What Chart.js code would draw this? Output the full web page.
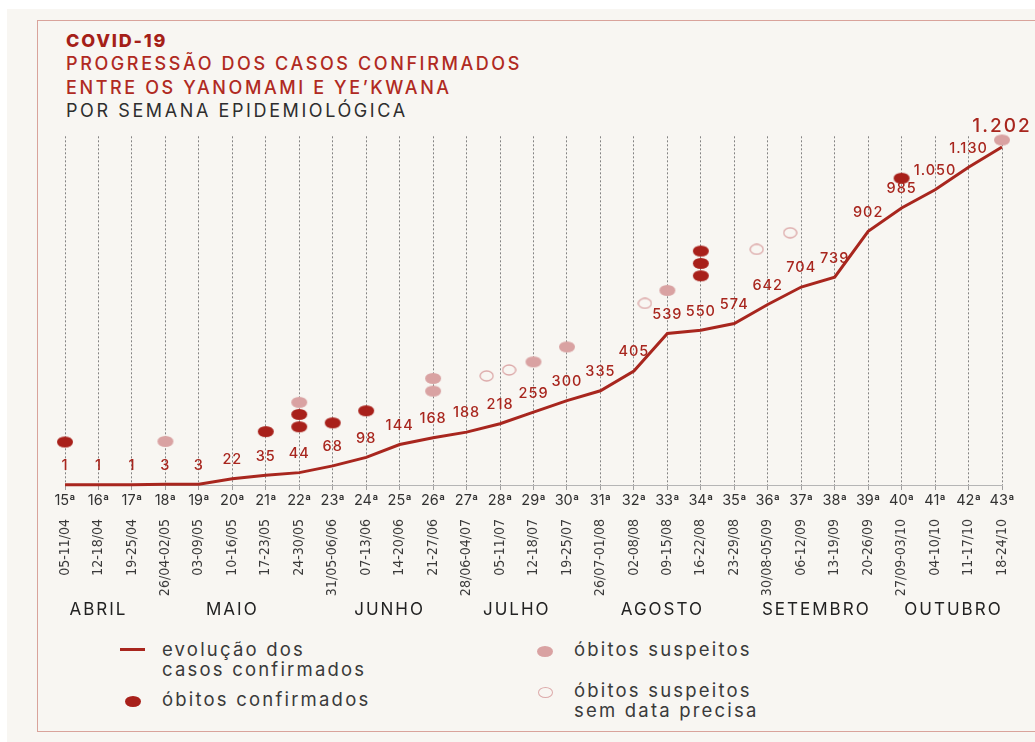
<!DOCTYPE html>
<html>
<head>
<meta charset="utf-8">
<script src="https://cdn.jsdelivr.net/npm/chart.js@4"></script>
<style>
  body { margin: 0; background: #fff; width: 1035px; height: 742px; overflow: hidden; position: relative; font-family: Inter, 'Noto Sans', sans-serif; }
  #sheet { position: absolute; left: 7px; top: 9px; width: 1028px; height: 733px; background: #f8f6f2; }
  #frame { position: absolute; left: 37px; top: 20px; width: 1010px; height: 710px; border-left: 1.5px solid #d9a39b; border-top: 1.5px solid #d9a39b; border-bottom: 1.5px solid #d9a39b; }
  #title { position: absolute; left: 66px; top: 29px; line-height: 23.4px; font-size: 18px; letter-spacing: 2.6px; }
  #title .t1 { color: #a51f19; font-weight: 800; letter-spacing: 1.8px; }
  #title .t2 { color: #b02a22; font-weight: 500; }
  #title .t3 { color: #2e2e2e; font-weight: 400; }
  #chart { position: absolute; left: 37px; top: 100px; }
  .leg { position: absolute; font-size: 18.5px; letter-spacing: 2.2px; color: #3a3a3a; line-height: 20px; }
  .sw { position: absolute; }
</style>
</head>
<body>
<div id="sheet"></div>
<div id="frame"></div>
<div id="title">
  <div class="t1">COVID-19</div>
  <div class="t2">PROGRESSÃO DOS CASOS CONFIRMADOS</div>
  <div class="t2">ENTRE OS YANOMAMI E YE’KWANA</div>
  <div class="t3">POR SEMANA EPIDEMIOLÓGICA</div>
</div>
<canvas id="chart" width="998" height="530"></canvas>

<div class="sw" style="left:120px;top:648px;width:25px;height:3px;background:#a8261e"></div>
<div class="leg" style="left:162px;top:639px">evolução dos<br>casos confirmados</div>
<div class="sw" style="left:125px;top:696px;width:16px;height:11px;border-radius:50%;background:#a8201a"></div>
<div class="leg" style="left:162px;top:689px">óbitos confirmados</div>
<div class="sw" style="left:537px;top:646px;width:16px;height:11px;border-radius:50%;background:#d9a2a2"></div>
<div class="leg" style="left:574px;top:639px">óbitos suspeitos</div>
<div class="sw" style="left:538px;top:687px;width:13px;height:9px;border-radius:50%;border:1.3px solid #dcaaaa"></div>
<div class="leg" style="left:574px;top:680px">óbitos suspeitos<br>sem data precisa</div>

<script>
// semanas epidemiológicas 15ª a 43ª
const weeks = [15, 16, 17, 18, 19, 20, 21, 22, 23, 24, 25, 26, 27, 28, 29, 30, 31, 32, 33, 34, 35, 36, 37, 38, 39, 40, 41, 42, 43];
const weekDates = ['05-11/04', '12-18/04', '19-25/04', '26/04-02/05', '03-09/05', '10-16/05', '17-23/05', '24-30/05',
  '31/05-06/06', '07-13/06', '14-20/06', '21-27/06', '28/06-04/07', '05-11/07', '12-18/07', '19-25/07',
  '26/07-01/08', '02-08/08', '09-15/08', '16-22/08', '23-29/08', '30/08-05/09', '06-12/09', '13-19/09',
  '20-26/09', '27/09-03/10', '04-10/10', '11-17/10', '18-24/10'];
const cases = [1, 1, 1, 3, 3, 22, 35, 44, 68, 98, 144, 168, 188, 218, 259, 300, 335, 405, 539, 550, 574, 642, 704, 739, 902, 985, 1050, 1130, 1202];

const monthNames = ['ABRIL', 'MAIO', 'JUNHO', 'JULHO', 'AGOSTO', 'SETEMBRO', 'OUTUBRO'];
const monthWeeks = [16, 20, 24.7, 28.5, 32.85, 37.45, 41.55];

// marcadores de óbitos (semana, altura no eixo de casos)
const confirmedDeaths = [[15, 153], [21, 190], [22, 251], [22, 207], [23, 221], [24, 264], [34, 832], [34, 788], [34, 744], [40, 1091]];
const suspectedDeaths = [[18, 155], [22, 294], [26, 379], [26, 334], [29, 438], [30, 491], [33, 692], [43, 1227]];
const undatedDeaths = [[27.6, 388], [28.27, 409], [32.33, 646], [35.67, 838], [36.67, 897]];

function dot(w, h, fill, stroke) {
    const c = document.createElement('canvas');
    c.width = w + 2;
    c.height = h + 2;
    const g = c.getContext('2d');
    g.beginPath();
    g.ellipse(c.width / 2, c.height / 2, w / 2, h / 2, 0, 0, Math.PI * 2);
    if (fill) { g.fillStyle = fill; g.fill(); }
    if (stroke) { g.lineWidth = 1.3; g.strokeStyle = stroke; g.stroke(); }
    return c;
}

function fmt(v) {
    return v >= 1000 ? Math.floor(v / 1000) + '.' + String(v % 1000).padStart(3, '0') : String(v);
}

const toXY = arr => arr.map(p => ({ x: p[0], y: p[1] }));

const valueLabels = {
    id: 'valueLabels',
    afterDatasetsDraw(chart) {
        const ctx = chart.ctx;
        const pts = chart.getDatasetMeta(0).data;
        ctx.save();
        ctx.fillStyle = '#a8261e';
        ctx.textAlign = 'center';
        ctx.textBaseline = 'middle';
        pts.forEach((p, i) => {
            const last = i === pts.length - 1;
            ctx.font = last ? '500 19px Inter' : '500 14.5px Inter';
            ctx.letterSpacing = last ? '2px' : '1px';
            ctx.fillText(fmt(cases[i]), p.x, p.y - (last ? 21 : 19));
        });
        // meses
        const xs = chart.scales.x;
        ctx.fillStyle = '#222';
        ctx.font = '400 17px Inter';
        ctx.letterSpacing = '2px';
        monthNames.forEach((m, i) => {
            ctx.fillText(m, xs.getPixelForValue(monthWeeks[i]), chart.chartArea.bottom + 125);
        });
        ctx.restore();
    }
};

new Chart(document.getElementById('chart'), {
    type: 'line',
    data: {
        datasets: [{
            label: 'evolução dos casos confirmados',
            data: weeks.map((w, i) => ({ x: w, y: cases[i] })),
            borderColor: '#a8261e',
            borderWidth: 3,
            pointRadius: 0,
            tension: 0,
            clip: false,
            order: 1
        }, {
            label: 'óbitos confirmados',
            data: toXY(confirmedDeaths),
            showLine: false,
            pointStyle: dot(16, 11, '#a8201a'),
            pointRadius: 6,
            clip: false,
            order: 0
        }, {
            label: 'óbitos suspeitos',
            data: toXY(suspectedDeaths),
            showLine: false,
            pointStyle: dot(16, 11, '#d9a2a2'),
            pointRadius: 6,
            clip: false,
            order: 0
        }, {
            label: 'óbitos suspeitos sem data precisa',
            data: toXY(undatedDeaths),
            showLine: false,
            pointStyle: dot(13, 10, null, '#dca8a8'),
            pointRadius: 6,
            clip: false,
            order: 0
        }]
    },
    options: {
        responsive: false,
        animation: false,
        events: [],
        layout: {
            padding: { left: 28, right: 33, top: 36.3, bottom: 30 }
        },
        plugins: {
            legend: { display: false },
            tooltip: { enabled: false }
        },
        scales: {
            y: {
                display: false,
                min: 0,
                max: 1240
            },
            x: {
                type: 'linear',
                position: 'bottom',
                weight: 0,
                min: 15,
                max: 43,
                afterFit: s => { s.height = 30; },
                grid: {
                    color: '#666',
                    lineWidth: 0.8,
                    tickLength: 5,
                    tickColor: '#888'
                },
                border: {
                    display: true,
                    color: '#b5b5b5',
                    width: 1,
                    dash: [2, 2]
                },
                ticks: {
                    stepSize: 1,
                    autoSkip: false,
                    maxRotation: 0,
                    padding: 2,
                    color: '#333',
                    font: { family: 'Inter', size: 14.5 },
                    callback: v => v + 'ª'
                }
            },
            dates: {
                type: 'category',
                labels: weekDates,
                position: 'bottom',
                weight: 1,
                offset: false,
                afterFit: s => { s.height = 85; },
                grid: { display: false, drawTicks: false },
                border: { display: false },
                ticks: {
                    autoSkip: false,
                    minRotation: 90,
                    maxRotation: 90,
                    padding: 4,
                    color: '#3a3a3a',
                    font: { family: "'Liberation Sans Narrow', 'DejaVu Sans Condensed', 'Roboto Condensed', sans-serif", size: 14 }
                }
            }
        }
    },
    plugins: [valueLabels]
});
</script>
</body>
</html>
